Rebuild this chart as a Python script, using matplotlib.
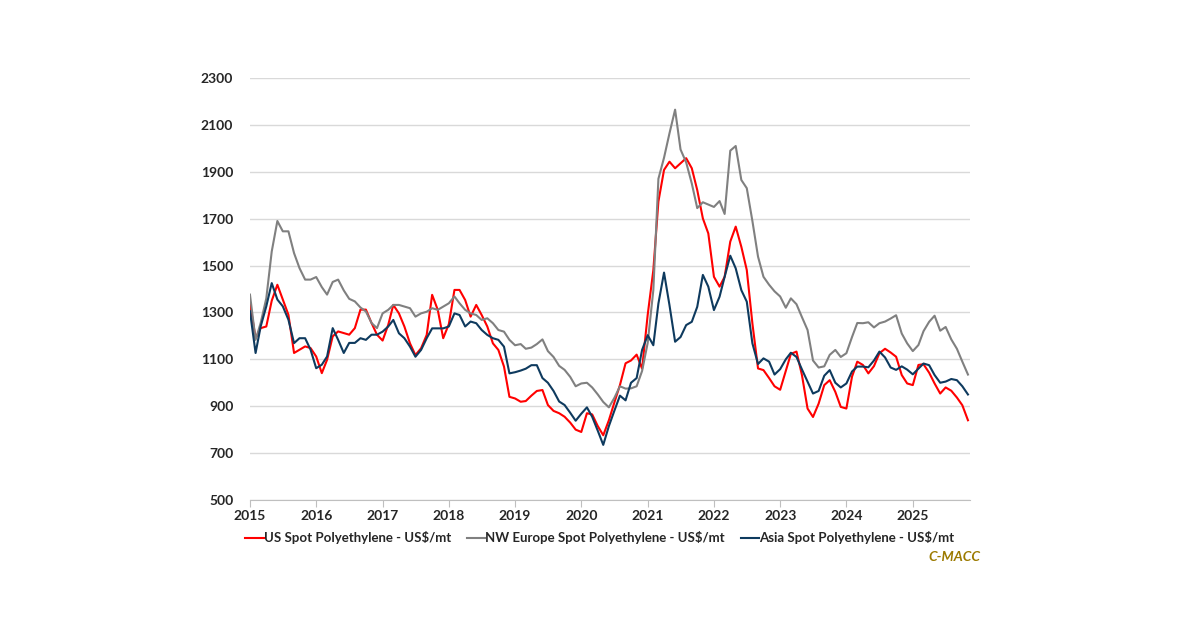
"""
Spot polyethylene prices, US vs NW Europe vs Asia (monthly readings)
"""

import numpy as np
import pandas as pd
import matplotlib
matplotlib.use("Agg")
import matplotlib.pyplot as plt
import matplotlib.dates as mdates

plt.rcParams['font.family'] = ['Lato', 'DejaVu Sans']

months = pd.date_range("2015-01-01", periods=131, freq="MS")

us_pe = [
    1340, 1190, 1233, 1240, 1350, 1418, 1355, 1290, 1127, 1141, 1155, 1148,  # 2015
    1112, 1041, 1098, 1198, 1219, 1212, 1205, 1233, 1312, 1312, 1255, 1205,  # 2016
    1180, 1247, 1332, 1296, 1240, 1168, 1118, 1147, 1204, 1375, 1311, 1190,  # 2017
    1250, 1396, 1396, 1353, 1282, 1332, 1289, 1240, 1168, 1140, 1069, 940,   # 2018
    933, 919, 922, 945, 965, 969, 905, 880, 870, 855, 830, 800,              # 2019
    790, 870, 865, 815, 776, 840, 915, 990, 1083, 1095, 1120, 1060,          # 2020
    1290, 1480, 1773, 1908, 1943, 1915, 1936, 1958, 1915, 1822, 1701, 1637,  # 2021
    1452, 1410, 1452, 1602, 1666, 1580, 1481, 1253, 1061, 1054, 1020, 985,   # 2022
    970, 1050, 1123, 1133, 1033, 890, 854, 911, 990, 1011, 961, 897,         # 2023
    890, 1026, 1090, 1076, 1040, 1071, 1126, 1145, 1129, 1111, 1033, 997,    # 2024
    990, 1076, 1079, 1043, 997, 954, 980, 966, 937, 904, 840,                # 2025
]

nwe_pe = [
    1376, 1183, 1255, 1360, 1560, 1690, 1646, 1646, 1553, 1489, 1440, 1440,
    1451, 1408, 1376, 1430, 1440, 1394, 1358, 1347, 1321, 1304, 1255, 1233,
    1296, 1311, 1332, 1332, 1325, 1318, 1282, 1296, 1303, 1318, 1311, 1325,
    1339, 1368, 1339, 1311, 1296, 1289, 1268, 1275, 1254, 1225, 1218, 1183,
    1160, 1165, 1145, 1150, 1165, 1185, 1135, 1110, 1072, 1055, 1025, 985,
    997, 1000, 980, 950, 918, 895, 935, 985, 975, 976, 985, 1050,
    1170, 1395, 1870, 1960, 2064, 2165, 1995, 1940, 1850, 1745, 1770, 1760,
    1750, 1775, 1720, 1990, 2010, 1865, 1830, 1690, 1538, 1452, 1418, 1390,
    1368, 1320, 1360, 1335, 1280, 1225, 1095, 1065, 1070, 1119, 1140, 1110,
    1126, 1195, 1255, 1254, 1258, 1236, 1254, 1261, 1274, 1288, 1210, 1168,
    1135, 1161, 1220, 1260, 1286, 1222, 1238, 1185, 1145, 1090, 1035,
]

asia_pe = [
    1305, 1127, 1240, 1326, 1425, 1355, 1326, 1269, 1169, 1190, 1190, 1141,
    1062, 1077, 1112, 1233, 1183, 1127, 1170, 1170, 1190, 1183, 1205, 1205,
    1218, 1240, 1268, 1211, 1190, 1154, 1111, 1140, 1190, 1232, 1232, 1232,
    1240, 1296, 1289, 1240, 1261, 1254, 1225, 1204, 1190, 1183, 1154, 1040,
    1045, 1052, 1060, 1075, 1075, 1020, 1000, 965, 920, 905, 872, 838,
    868, 895, 855, 795, 735, 815, 880, 945, 925, 1000, 1020, 1140,
    1203, 1160, 1338, 1470, 1331, 1175, 1195, 1246, 1260, 1324, 1460, 1410,
    1310, 1367, 1452, 1542, 1488, 1395, 1346, 1168, 1080, 1104, 1090, 1035,
    1058, 1100, 1128, 1110, 1057, 1005, 954, 965, 1030, 1054, 1000, 980,
    997, 1048, 1069, 1069, 1066, 1095, 1133, 1108, 1065, 1055, 1070, 1056,
    1036, 1060, 1082, 1075, 1033, 1000, 1005, 1016, 1011, 985, 950,
]

labels = ["US Spot Polyethylene - US$/mt",
          "NW Europe Spot Polyethylene - US$/mt",
          "Asia Spot Polyethylene - US$/mt"]
colors = ["#FF0000", "#808080", "#0E3A5E"]

fig = plt.figure(figsize=(12, 6.27), dpi=100)
ax = fig.add_axes([0.2083, 0.2026, 0.6, 0.673])

for vals, lab, col in zip([us_pe, nwe_pe, asia_pe], labels, colors):
    ax.plot(months, vals, color=col, lw=1.5, label=lab)

ax.set_ylim(500, 2300)
ax.set_yticks(np.arange(500, 2301, 200))
ax.set_xlim(pd.Timestamp("2015-01-01"), pd.Timestamp("2025-11-12"))
ax.xaxis.set_major_locator(mdates.YearLocator())
ax.xaxis.set_major_formatter(mdates.DateFormatter("%Y"))

ax.grid(axis='y', color='#D9D9D9', lw=1.0)
ax.set_axisbelow(True)
for s in ['left', 'right', 'top']:
    ax.spines[s].set_visible(False)
ax.spines['bottom'].set_color('#BFBFBF')
ax.tick_params(axis='y', length=0, pad=12)
ax.tick_params(axis='x', length=5, color='#BFBFBF', pad=2)
for t in ax.get_xticklabels() + ax.get_yticklabels():
    t.set_fontweight('bold')
    t.set_fontsize(10)
    t.set_color('#262626')

leg = fig.legend(loc='center', bbox_to_anchor=(0.5, 0.142), ncol=3, frameon=False,
                 handlelength=1.4, handletextpad=0.0, columnspacing=1.2,
                 prop={'weight': 'bold', 'size': 9.5})
for txt in leg.get_texts():
    txt.set_color('#262626')

fig.text(0.817, 0.112, "C-MACC", ha='right', va='center', fontsize=10,
         fontweight='bold', style='italic', color='#9C7A00')

plt.savefig("out.png", dpi=100)
